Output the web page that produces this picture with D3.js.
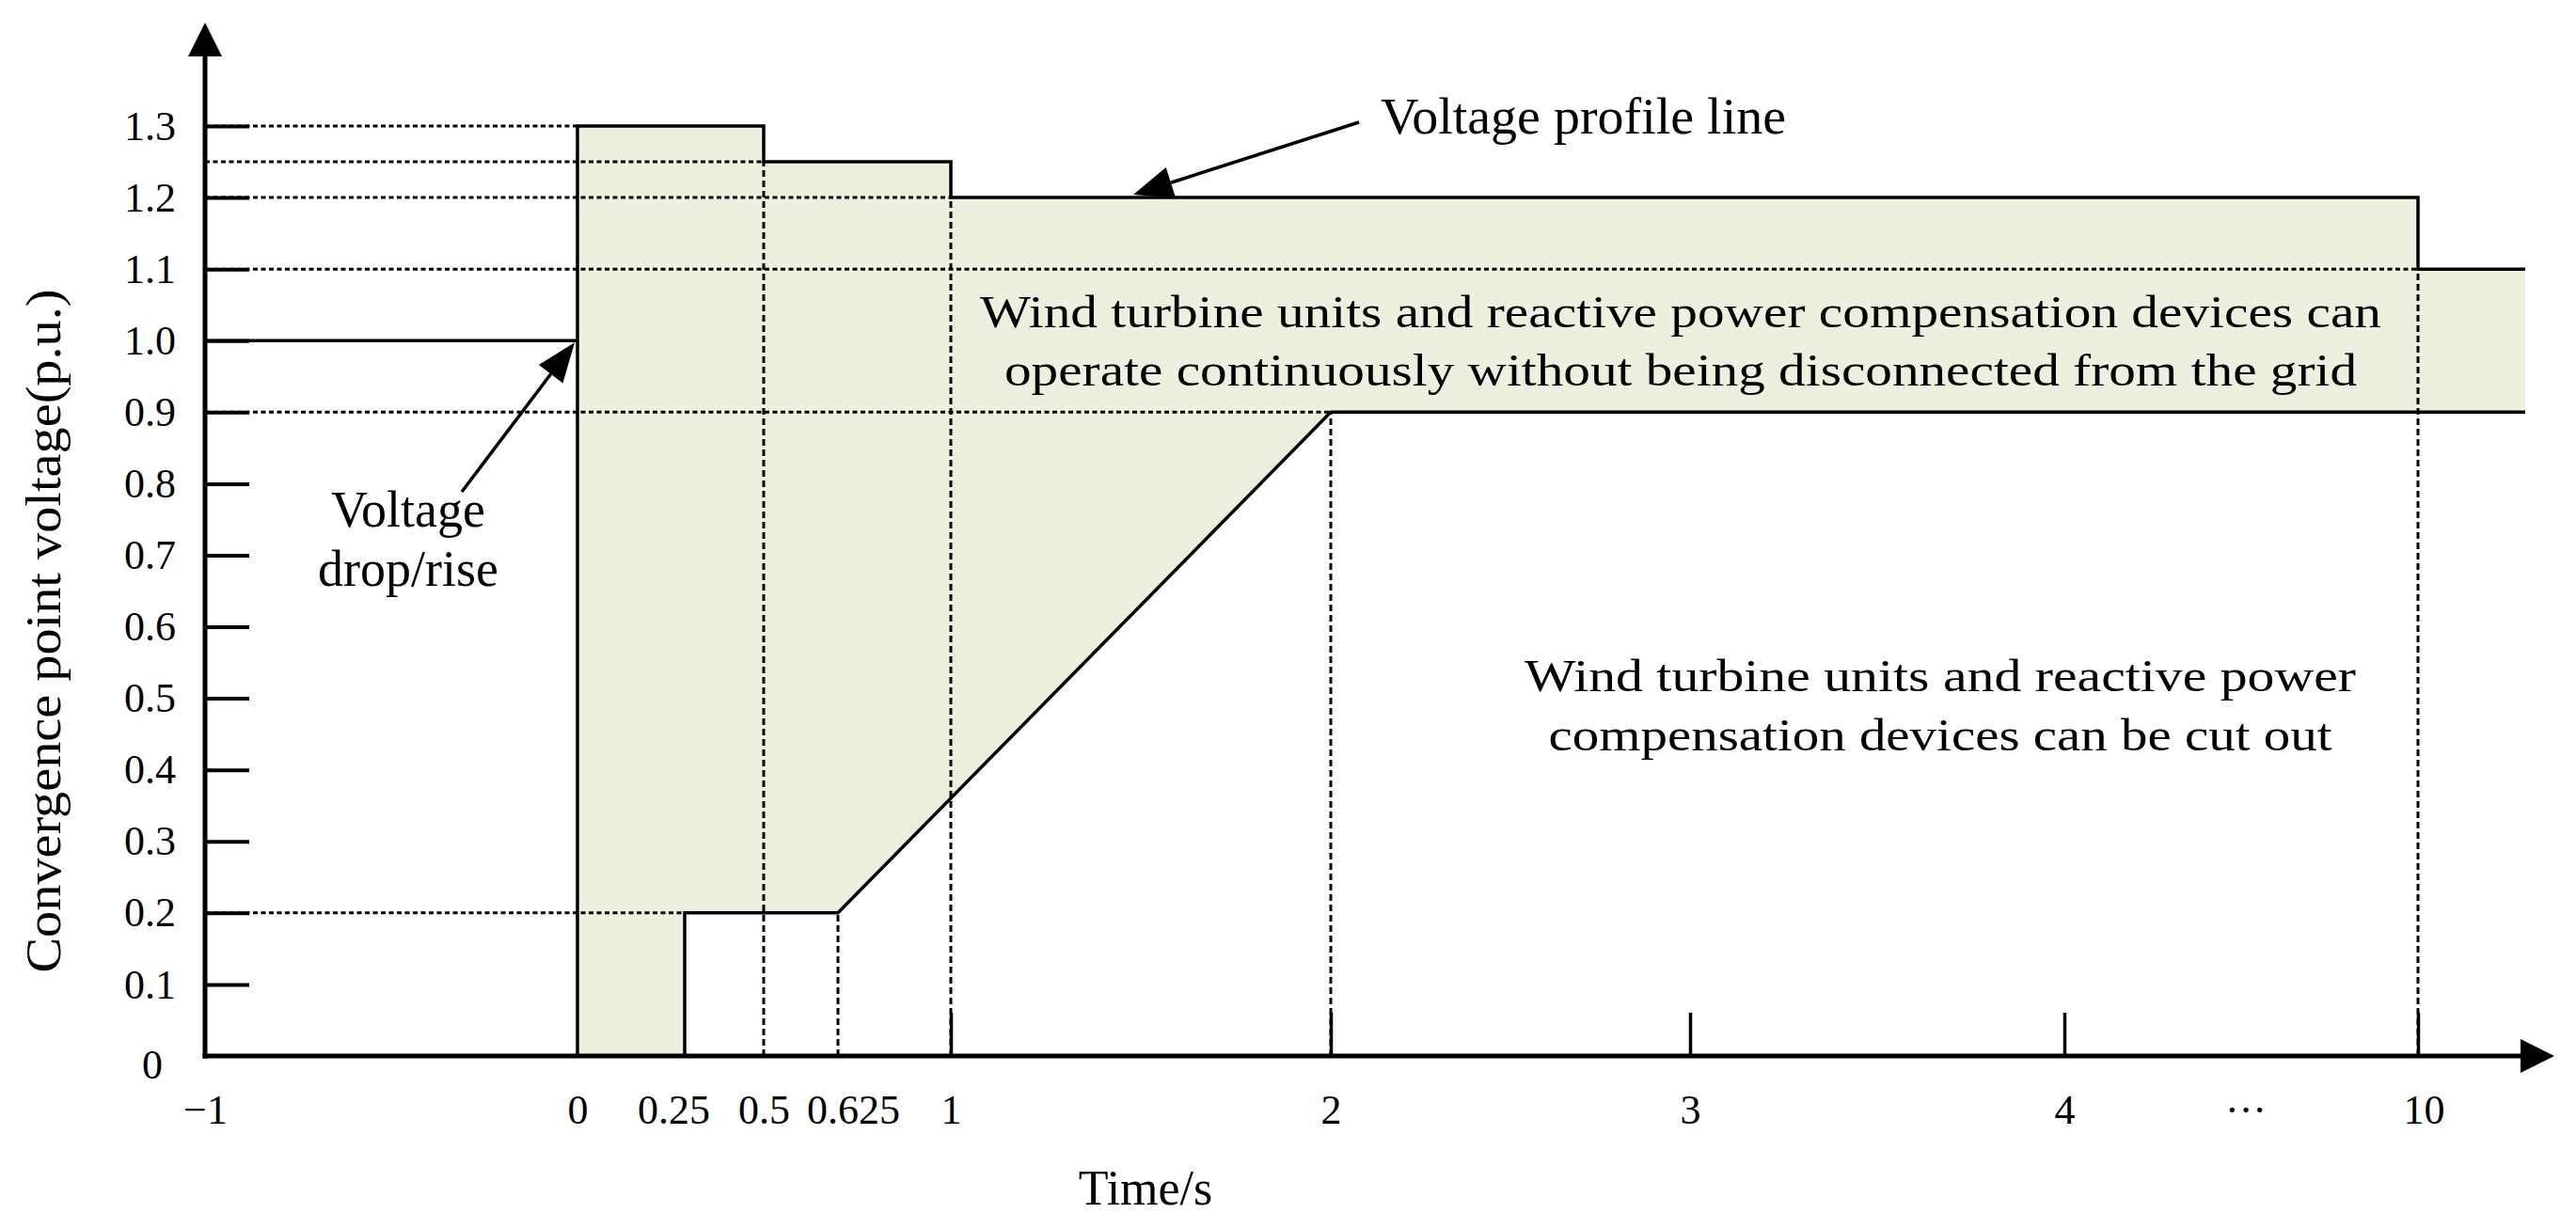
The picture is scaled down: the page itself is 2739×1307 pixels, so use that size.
<!DOCTYPE html>
<html lang="en">
<head>
<meta charset="UTF-8">
<title>Convergence point voltage profile</title>
<script src="https://d3js.org/d3.v7.min.js"></script>
<style>
  body { margin: 0; background: #fff; }
  svg { display: block; }
  text { font-family: "Liberation Serif", "Times New Roman", serif; fill: #000; }
</style>
</head>
<body>
<svg id="chart" width="2739" height="1307"></svg>
<script>
// time axis (schematic, not drawn to scale)
const timeTicks = [-1, 0, 0.25, 0.5, 0.625, 1, 2, 3, 4, 10];
const timeLabels = ['\u22121', '0', '0.25', '0.5', '0.625', '1', '2', '3', '4', '10'];
const timeMarked = [1, 2, 3, 4, 10];   // ticks that get a solid tick mark
const timeEnd = 11;                    // right edge of the curves ("beyond 10 s")
const voltTicks = [0.1, 0.2, 0.3, 0.4, 0.5, 0.6, 0.7, 0.8, 0.9, 1.0, 1.1, 1.2, 1.3];

// voltage profile line (upper boundary)
const upperT = [-1, 0, 0, 0.5, 0.5, 1, 1, 10, 10, 11];
const upperV = [1.0, 1.0, 1.3, 1.3, 1.25, 1.25, 1.2, 1.2, 1.1, 1.1];
// lower boundary
const lowerT = [0, 0, 0.25, 0.25, 0.625, 2, 11];
const lowerV = [1.0, 0, 0, 0.2, 0.2, 0.9, 0.9];

// dotted guide lines
const guideHV = [1.3, 1.25, 1.2, 1.1, 0.9, 0.2];   // horizontal, voltage
const guideHT = [0, 0.5, 1, 10, 2, 0.25];          // ... stops at this time
const guideVT = [0.5, 0.625, 1, 2, 10];            // vertical, time
const guideVV = [1.25, 0.2, 1.2, 0.9, 1.1];        // ... up to this voltage

const svg = d3.select('#chart');

const x = d3.scaleLinear()
    .domain([...timeTicks, timeEnd])
    .range([218, 614, 728, 812, 891, 1011, 1415, 1797, 2195, 2571, 2685]);
const y = d3.scaleLinear().domain([0, 1.3]).range([1123, 134]);

const upper = upperT.map((t, i) => [t, upperV[i]]);
const lower = lowerT.map((t, i) => [t, lowerV[i]]);
const line = d3.line().x(d => x(d[0])).y(d => y(d[1]));

// green region
const region = upper.slice(2).concat(lower.slice().reverse());
svg.append('path')
    .attr('d', line(region) + 'Z')
    .attr('fill', '#EBF1DE');

// dotted guides
guideHV.forEach((v, i) => {
    svg.append('line')
        .attr('x1', x(-1)).attr('x2', x(guideHT[i]))
        .attr('y1', y(v)).attr('y2', y(v))
        .attr('stroke', '#000').attr('stroke-width', 3)
        .attr('stroke-dasharray', '5,3.5');
});
guideVT.forEach((t, i) => {
    svg.append('line')
        .attr('x1', x(t)).attr('x2', x(t))
        .attr('y1', y(0)).attr('y2', y(guideVV[i]))
        .attr('stroke', '#000').attr('stroke-width', 3)
        .attr('stroke-dasharray', '7,4');
});

// profile lines
[upper, lower].forEach(d => {
    svg.append('path')
        .attr('d', line(d))
        .attr('fill', 'none')
        .attr('stroke', '#000')
        .attr('stroke-width', 3.5)
        .attr('stroke-linejoin', 'miter');
});

// y axis
const yAxis = svg.append('g')
    .attr('transform', `translate(${x(-1)},0)`)
    .call(d3.axisLeft(y).tickValues(voltTicks).tickFormat(d3.format('.1f'))
        .tickSizeInner(-47).tickSizeOuter(0).tickPadding(31));
yAxis.select('.domain').remove();
yAxis.selectAll('.tick line').attr('stroke', '#000').attr('stroke-width', 4);
yAxis.selectAll('.tick text')
    .attr('font-family', '"Liberation Serif", serif')
    .attr('font-size', 44).attr('fill', '#000');

// x axis
const xAxis = svg.append('g')
    .attr('transform', `translate(0,${y(0)})`)
    .call(d3.axisBottom(x).tickValues(timeTicks)
        .tickFormat((d, i) => timeLabels[i])
        .tickSizeInner(-46).tickSizeOuter(0).tickPadding(41));
xAxis.select('.domain').remove();
xAxis.selectAll('.tick line')
    .attr('stroke', '#000').attr('stroke-width', 3.5)
    .attr('y2', d => timeMarked.includes(d) ? -46 : 0);
xAxis.selectAll('.tick text')
    .attr('y', 41)
    .attr('font-family', '"Liberation Serif", serif')
    .attr('font-size', 44).attr('fill', '#000')
    .attr('dx', d => d === 0.25 ? -12 : d === 0.625 ? 16 : d === 10 ? 6 : 0);

// ellipsis between 4 and 10
svg.append('text')
    .attr('x', 2388).attr('y', y(0) + 41).attr('dy', '0.71em')
    .attr('text-anchor', 'middle').attr('font-size', 44)
    .text('\u00B7\u00B7\u00B7');

// axis lines with arrows
svg.append('line')
    .attr('x1', x(-1)).attr('x2', x(-1)).attr('y1', y(0) + 2.5).attr('y2', 58)
    .attr('stroke', '#000').attr('stroke-width', 5);
svg.append('path')
    .attr('d', `M${x(-1) - 18},60 L${x(-1)},24 L${x(-1) + 18},60 Z`);
svg.append('line')
    .attr('x1', x(-1) - 2.5).attr('x2', 2682).attr('y1', y(0)).attr('y2', y(0))
    .attr('stroke', '#000').attr('stroke-width', 5);
svg.append('path')
    .attr('d', `M2680,${y(0) - 18} L2716,${y(0)} L2680,${y(0) + 18} Z`);

// "0" at the origin
svg.append('text')
    .attr('x', 162).attr('y', y(0) + 24)
    .attr('text-anchor', 'middle').attr('font-size', 44)
    .text('0');

// axis titles
svg.append('text')
    .attr('x', 1218).attr('y', 1281)
    .attr('text-anchor', 'middle').attr('font-size', 52)
    .text('Time/s');
svg.append('text')
    .attr('transform', 'translate(64,671) rotate(-90)')
    .attr('text-anchor', 'middle').attr('font-size', 52)
    .attr('textLength', 727).attr('lengthAdjust', 'spacingAndGlyphs')
    .text('Convergence point voltage(p.u.)');

// arrow annotations
function arrow(x1, y1, x2, y2, len, w) {
    const a = Math.atan2(y2 - y1, x2 - x1);
    const bx = x2 - len * Math.cos(a), by = y2 - len * Math.sin(a);
    const px = -Math.sin(a) * w / 2, py = Math.cos(a) * w / 2;
    svg.append('line')
        .attr('x1', x1).attr('y1', y1).attr('x2', bx).attr('y2', by)
        .attr('stroke', '#000').attr('stroke-width', 3.5);
    svg.append('path')
        .attr('d', `M${x2},${y2} L${bx + px},${by + py} L${bx - px},${by - py} Z`);
}
arrow(1445, 130, x(1.48), y(1.2) - 3, 42, 34);
arrow(491, 523, x(0) - 3, y(1.0) + 2, 42, 32);

svg.append('text')
    .attr('x', 1468).attr('y', 142).attr('font-size', 54)
    .attr('textLength', 431).attr('lengthAdjust', 'spacingAndGlyphs')
    .text('Voltage profile line');

const drop = svg.append('text').attr('text-anchor', 'middle').attr('font-size', 54);
drop.append('tspan').attr('x', 434).attr('y', 560).text('Voltage');
drop.append('tspan').attr('x', 434).attr('y', 623).text('drop/rise');

// region descriptions
function block(lines, cx, y0, lh, lens, size) {
    lines.forEach((s, i) => {
        svg.append('text')
            .attr('x', cx).attr('y', y0 + i * lh)
            .attr('text-anchor', 'middle').attr('font-size', size)
            .attr('textLength', lens[i]).attr('lengthAdjust', 'spacingAndGlyphs')
            .text(s);
    });
}
block(['Wind turbine units and reactive power compensation devices can',
       'operate continuously without being disconnected from the grid'],
      1787, 348, 62, [1490, 1438], 48);
block(['Wind turbine units and reactive power',
       'compensation devices can be cut out'],
      2063, 735, 63, [884, 833], 48);
</script>
</body>
</html>
